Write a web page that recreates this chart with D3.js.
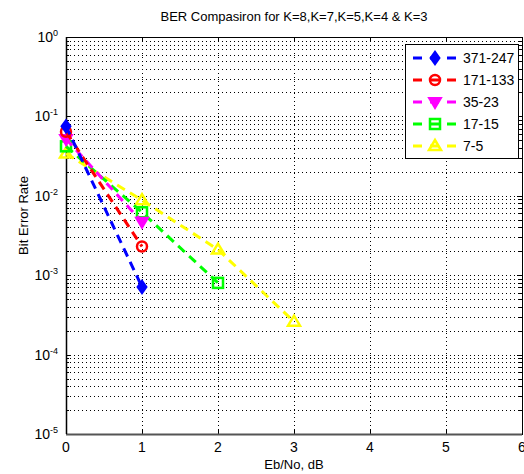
<html>
<head>
<meta charset="utf-8">
<script src="https://d3js.org/d3.v7.min.js"></script>
<style>
  body { margin: 0; background: #fff; font-family: "Liberation Sans", Arial, sans-serif; }
  .grid line { stroke: #000; stroke-width: 1px; stroke-dasharray: 1,3; }
</style>
</head>
<body>
<div id="chart"></div>
<script>
// data
var names = ["371-247", "171-133", "35-23", "17-15", "7-5"];
var colors = ["#0000ff", "#ff0000", "#ff00ff", "#00ff00", "#ffff00"];
var symbols = ["diamond", "circle", "tridown", "square", "triup"];
var ebno = [
  [0, 1],
  [0, 1],
  [0, 1],
  [0, 1, 2],
  [0, 1, 2, 3]
];
var ber = [
  [0.075, 7.1e-4],
  [0.064, 2.3e-3],
  [0.052, 4.7e-3],
  [0.042, 6.2e-3, 8.0e-4],
  [0.034, 8.8e-3, 2.1e-3, 2.6e-4]
];
var xTicks = [0, 1, 2, 3, 4, 5, 6];
var yDecades = [0, -1, -2, -3, -4, -5];

var width = 524, height = 474;
var margin = { top: 37, right: 2, bottom: 40, left: 66 };
var w = width - margin.left - margin.right,
    h = height - margin.top - margin.bottom;

var svg = d3.select("#chart").append("svg")
  .attr("width", width).attr("height", height);

var g = svg.append("g")
  .attr("transform", "translate(" + margin.left + "," + margin.top + ")");

var x = d3.scaleLinear().domain([0, 6]).range([0, 456]);
var y = d3.scaleLog().domain([1e-5, 1]).range([h, 0]);

// minor log values
var minors = [];
for (var k = -5; k < 0; k++) {
  for (var m = 2; m <= 9; m++) minors.push(m * Math.pow(10, k));
}
var majors = yDecades.map(function(d) { return Math.pow(10, d); });

// grid
var grid = g.append("g").attr("class", "grid");
grid.selectAll(".hx").data(minors.concat(majors.slice(1, 5))).enter().append("line")
  .attr("x1", 0).attr("x2", w)
  .attr("y1", function(d) { return Math.round(y(d)) + 0.5; })
  .attr("y2", function(d) { return Math.round(y(d)) + 0.5; });
grid.selectAll(".vx").data(xTicks.slice(1, 6)).enter().append("line")
  .attr("y1", 0).attr("y2", h)
  .attr("x1", function(d) { return Math.round(x(d)) + 0.5; })
  .attr("x2", function(d) { return Math.round(x(d)) + 0.5; });

// ticks on frame
var ticks = g.append("g").attr("stroke", "#000").attr("stroke-width", 1);
xTicks.forEach(function(t) {
  var px = Math.round(x(t)) + 0.5;
  ticks.append("line").attr("x1", px).attr("x2", px).attr("y1", h).attr("y2", h - 5);
  ticks.append("line").attr("x1", px).attr("x2", px).attr("y1", 0).attr("y2", 5);
});
minors.concat(majors).forEach(function(v) {
  var py = Math.round(y(v)) + 0.5;
  var len = majors.indexOf(v) >= 0 ? 5 : 3;
  ticks.append("line").attr("x1", 0).attr("x2", len).attr("y1", py).attr("y2", py);
  ticks.append("line").attr("x1", 456 - len).attr("x2", 456).attr("y1", py).attr("y2", py);
});

// frame
g.append("rect").attr("x", 0.5).attr("y", 0.5).attr("width", 456).attr("height", h)
  .attr("fill", "none").attr("stroke", "#000").attr("stroke-width", 1);
g.append("line").attr("x1", 0).attr("x2", 456).attr("y1", h + 0.5).attr("y2", h + 0.5)
  .attr("stroke", "#555").attr("stroke-width", 2);
g.append("line").attr("x1", 0.5).attr("x2", 0.5).attr("y1", 0).attr("y2", h)
  .attr("stroke", "#000").attr("stroke-width", 1.5);

// x tick labels
g.selectAll(".xl").data(xTicks).enter().append("text")
  .attr("x", function(d) { return x(d); })
  .attr("y", h + 18)
  .attr("text-anchor", "middle")
  .attr("font-size", 14)
  .text(function(d) { return d; });

// y tick labels 10^k
var yl = g.selectAll(".yl").data(yDecades).enter().append("text")
  .attr("x", -8)
  .attr("y", function(d) { return y(Math.pow(10, d)) + 5; })
  .attr("text-anchor", "end")
  .attr("font-size", 14);
yl.append("tspan").text("10");
yl.append("tspan").attr("dy", -6).attr("font-size", 9).text(function(d) { return d; });

// title and axis labels
svg.append("text").attr("x", margin.left + 228).attr("y", 21)
  .attr("text-anchor", "middle").attr("font-size", 13)
  .text("BER Compasiron for K=8,K=7,K=5,K=4 & K=3");
svg.append("text").attr("x", margin.left + 228).attr("y", 469)
  .attr("text-anchor", "middle").attr("font-size", 13)
  .text("Eb/No, dB");
svg.append("text").attr("transform", "translate(28," + (margin.top + h / 2 - 20) + ") rotate(-90)")
  .attr("text-anchor", "middle").attr("font-size", 13)
  .text("Bit Error Rate");

function marker(sel, type, color, cx, cy) {
  var s = 5;
  if (type === "circle") {
    sel.append("circle").attr("cx", cx).attr("cy", cy).attr("r", s)
      .attr("fill", "none").attr("stroke", color).attr("stroke-width", 2.5);
  } else if (type === "square") {
    sel.append("rect").attr("x", cx - s).attr("y", cy - s).attr("width", 2 * s).attr("height", 2 * s)
      .attr("fill", "none").attr("stroke", color).attr("stroke-width", 2.5);
  } else if (type === "diamond") {
    sel.append("path").attr("d", d3.symbol().type(d3.symbolDiamond).size(40)())
      .attr("transform", "translate(" + cx + "," + cy + ") scale(1.25,1)")
      .attr("fill", color).attr("stroke", color).attr("stroke-width", 2);
  } else if (type === "tridown") {
    sel.append("path").attr("d", "M" + (cx - 6) + "," + (cy - 4) + "L" + (cx + 6) + "," + (cy - 4) + "L" + cx + "," + (cy + 6) + "Z")
      .attr("fill", color).attr("stroke", color).attr("stroke-width", 2);
  } else {
    sel.append("path").attr("d", "M" + (cx - 6) + "," + (cy + 4) + "L" + (cx + 6) + "," + (cy + 4) + "L" + cx + "," + (cy - 6) + "Z")
      .attr("fill", "none").attr("stroke", color).attr("stroke-width", 2.5);
  }
}

var line = d3.line()
  .x(function(d) { return x(d[0]); })
  .y(function(d) { return y(d[1]); });

var series = g.append("g");
// draw in reverse so blue sits on top
for (var i = names.length - 1; i >= 0; i--) {
  var pts = ebno[i].map(function(e, j) { return [e, ber[i][j]]; });
  series.append("path").datum(pts)
    .attr("d", line)
    .attr("fill", "none")
    .attr("stroke", colors[i])
    .attr("stroke-width", 3)
    .attr("stroke-dasharray", "9,6");
  pts.forEach(function(p) {
    marker(series, symbols[i], colors[i], x(p[0]), y(p[1]));
  });
}

// legend
var lg = svg.append("g").attr("transform", "translate(405,44)");
lg.append("rect").attr("x", 0.5).attr("y", 0.5).attr("width", 113).attr("height", 114)
  .attr("fill", "#fff").attr("stroke", "#000").attr("stroke-width", 1);
names.forEach(function(n, i) {
  var ly = 14 + i * 22;
  lg.append("line").attr("x1", 8).attr("x2", 52).attr("y1", ly).attr("y2", ly)
    .attr("stroke", colors[i]).attr("stroke-width", 3).attr("stroke-dasharray", "9,8");
  marker(lg, symbols[i], colors[i], 30, ly);
  lg.append("text").attr("x", 58).attr("y", ly + 5).attr("font-size", 14).text(n);
});
</script>
</body>
</html>
